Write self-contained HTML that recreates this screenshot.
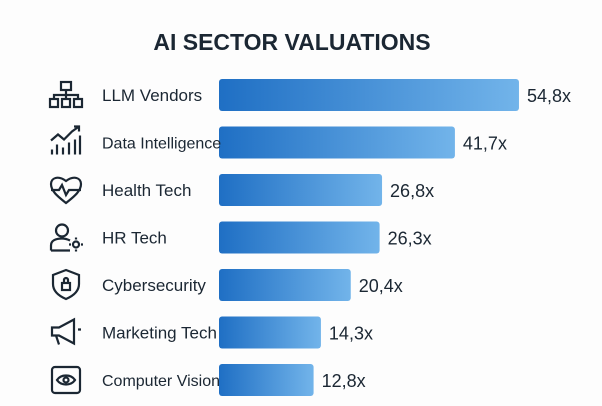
<!DOCTYPE html>
<html><head><meta charset="utf-8"><style>
body{margin:0;width:602px;height:401px;background:#fdfdfd;overflow:hidden;font-family:"Liberation Sans",sans-serif;}
</style></head><body>
<svg width="602" height="401">
<defs><linearGradient id="g" x1="0" x2="1" y1="0" y2="0"><stop offset="0" stop-color="#1f6fc4"/><stop offset="1" stop-color="#72b4ea"/></linearGradient></defs>
<text x="292" y="50" text-anchor="middle" font-size="23" font-weight="bold" fill="#1b2733">AI SECTOR VALUATIONS</text>
<g id="rows"></g>
</svg>
<script>
const categories=["LLM Vendors","Data Intelligence","Health Tech","HR Tech","Cybersecurity","Marketing Tech","Computer Vision"];
const values=[54.8,41.7,26.8,26.3,20.4,14.3,12.8];
const valueLabels=["54,8x","41,7x","26,8x","26,3x","20,4x","14,3x","12,8x"];
const x0=219;
function xw(v){return 32+4.89*v;}
function yc(i){return 95+i*47.5;}
const icons=[
'<rect x="-5" y="-13" width="10" height="8"/><rect x="-16" y="4" width="8" height="8"/><rect x="-4" y="4" width="8" height="8"/><rect x="8" y="4" width="8" height="8"/><path d="M0-5V0M-12 4V0H12V4M0 0V4"/>',
'<path d="M-15 -2L-8-8-2-3 6-11 13-16M8-16H13V-11M-14 12V7M-9 12V2M-3 12V5M3 12V0M9 12V-3M14 12V-7"/>',
'<path d="M0 13C-6 8-15 2-15-6-15-12-8-15 0-9 8-15 15-12 15-6 15 2 6 8 0 13ZM-15 0H-7L-4-5 0 5 3 0H15"/>',
'<circle cx="-4" cy="-7" r="6"/><path d="M-15 13V8C-15 3-10 1-4 1 0 1 2 2 4 3M-15 13H4"/><circle cx="10" cy="7" r="3"/><path d="M10 0V2M10 12V14M3 7H5M15 7H17"/>',
'<path d="M0-15L13-10V-1C13 6 7 11 0 14-7 11-13 6-13-1V-10Z"/><rect x="-4" y="-2" width="8" height="7"/><path d="M-2-2V-5A2 2 0 0 1 2-5V-2"/>',
'<path d="M-14-5H-7L8-13V11L-7 3H-14ZM-10 3L-7 12M12-3H15"/>',
'<rect x="-14" y="-13" width="28" height="26" rx="3"/><path d="M-9 0C-5-6 5-6 9 0 5 6-5 6-9 0Z"/><circle cx="0" cy="0" r="2.5"/>'
];
const g=document.getElementById('rows');
const ns="http://www.w3.org/2000/svg";
categories.forEach((c,i)=>{
 const y=yc(i);
 const ic=document.createElementNS(ns,'g');
 
 
 ic.setAttribute('transform','translate(66,'+y+')');
 ic.setAttribute('fill','none');ic.setAttribute('stroke','#1b2733');ic.setAttribute('stroke-width','2.2');
 ic.innerHTML=icons[i];g.appendChild(ic);
 const r=document.createElementNS(ns,'rect');
 
 
 r.setAttribute('x',x0);r.setAttribute('y',y-16);r.setAttribute('width',xw(values[i]));r.setAttribute('height',32);r.setAttribute('rx',3);r.setAttribute('fill','url(#g)');
 g.appendChild(r);
 const t=document.createElementNS(ns,'text');
 
 
 t.setAttribute('x',102);t.setAttribute('y',y+6);t.setAttribute('font-size',i==1||i==6?16:17);t.setAttribute('fill','#1b2733');
 t.textContent=c;g.appendChild(t);
 const v=document.createElementNS(ns,'text');
 
 
 v.setAttribute('x',x0+xw(values[i])+8);v.setAttribute('y',y+7);v.setAttribute('font-size',18);v.setAttribute('fill','#1b2733');
 v.textContent=valueLabels[i];g.appendChild(v);
});
</script>
</body></html>
